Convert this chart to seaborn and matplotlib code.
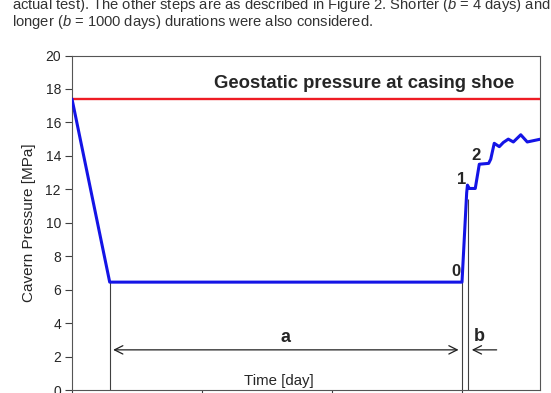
import matplotlib
matplotlib.use("Agg")
import matplotlib.pyplot as plt
import numpy as np
import pandas as pd
import seaborn as sns

# cavern pressure history (days, MPa)
time_days = [0, 29, 300, 303.6, 304.2, 305.6, 310.2, 313.3, 320.5, 322.1, 324.8,
             328.7, 331.8, 335.6, 339.5, 345.2, 350.2, 360.5]
pressure = [17.4, 6.45, 6.45, 11.8, 12.25, 12.05, 12.05, 13.5, 13.55, 13.8, 14.75,
            14.55, 14.8, 15.0, 14.83, 15.26, 14.83, 15.0]
geostatic = 17.4

# marker lines / labels
a_start, a_end, b_line = 29, 300, 304.8
stage_labels = ["0", "1", "2"]
stage_pos = [(295, 7.1), (299.5, 12.6), (310.5, 14.05)]

caption = [
    "actual test). The other steps are as described in Figure 2. Shorter ($b$ = 4 days) and",
    "longer ($b$ = 1000 days) durations were also considered.",
]

sns.set_theme(style="white")
plt.rcParams["font.family"] = ["Liberation Sans", "DejaVu Sans"]
plt.rcParams["mathtext.fontset"] = "custom"
plt.rcParams["mathtext.it"] = "Liberation Sans:italic"
plt.rcParams["mathtext.rm"] = "Liberation Sans"

fig = plt.figure(figsize=(5.51, 3.93), dpi=100)
ax = fig.add_axes([72 / 551, 3 / 393, 468 / 551, 334.5 / 393])

df = pd.DataFrame({"t": time_days, "p": pressure})
sns.lineplot(data=df, x="t", y="p", ax=ax, color="#1414e6", linewidth=2.2, zorder=4)
ax.axhline(geostatic, color="#ee1c24", linewidth=1.7, zorder=3)

# vertical guide lines down to the axis
ax.vlines([a_start, a_end], 0, np.interp([a_start, a_end], time_days, pressure),
          color="#404040", linewidth=0.8, zorder=2)
ax.vlines(b_line, 0, 11.4, color="#404040", linewidth=0.8, zorder=2)

arrow = dict(arrowstyle="<->", color="#202020", lw=0.9, mutation_scale=15)
ax.annotate("", xy=(a_start + 0.5, 2.4), xytext=(a_end - 0.5, 2.4), arrowprops=arrow)
ax.annotate("", xy=(b_line + 0.6, 2.4), xytext=(b_line + 24, 2.4),
            arrowprops=dict(arrowstyle="->", color="#202020", lw=0.9, mutation_scale=15))
ax.text((a_start + a_end) / 2, 3.15, "a", ha="center", va="center",
        fontsize=13, fontweight="bold")
ax.text(b_line + 8.5, 3.2, "b", ha="center", va="center",
        fontsize=13, fontweight="bold")
for lab, (x, y) in zip(stage_labels, stage_pos):
    ax.text(x, y, lab, ha="center", va="center", fontsize=12, fontweight="bold")

ax.text(225, 18.3, "Geostatic pressure at casing shoe", ha="center", va="center",
        fontsize=13.3, fontweight="bold")
ax.text(159, 0.55, "Time [day]", ha="center", va="center", fontsize=10.8)

ax.set_xlim(0, 360)
ax.set_ylim(0, 20)
ax.set_yticks(np.arange(0, 21, 2))
ax.set_xticks([0, 100, 200, 300])
ax.set_xticklabels([])
ax.set_xlabel("")
ax.set_ylabel("Cavern Pressure [MPa]", fontsize=11, labelpad=7)
ax.tick_params(axis="y", direction="out", length=5, width=0.8, labelsize=10,
               color="#404040", left=True, pad=3)
ax.tick_params(axis="x", direction="out", length=4, width=0.8, color="#404040", bottom=True)
for s in ax.spines.values():
    s.set_color("#555555")
    s.set_linewidth(0.8)

fig.text(12 / 551, 1 - 5 / 393, caption[0], ha="left", va="center",
         fontsize=10.6, color="#333333")
fig.text(12 / 551, 1 - 22 / 393, caption[1], ha="left", va="center",
         fontsize=10.6, color="#333333")

fig.savefig("out.png", dpi=100)
